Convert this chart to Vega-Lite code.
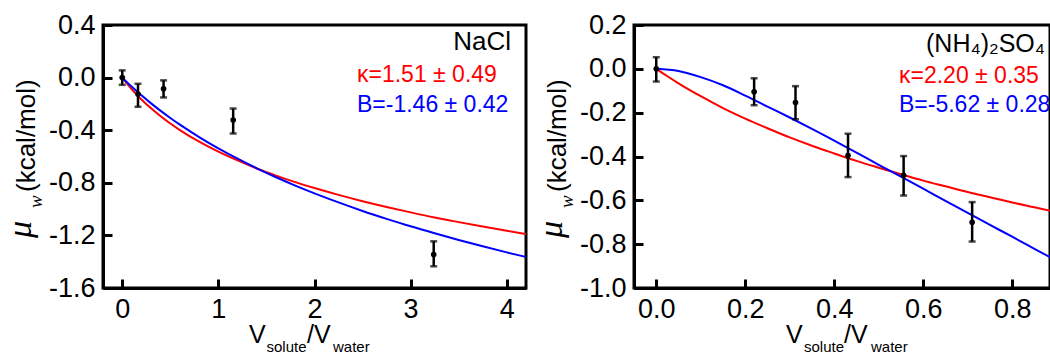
{
  "$schema": "https://vega.github.io/schema/vega-lite/v6.json",
  "autosize": {"type": "pad"},
  "padding": {"left": 2, "top": 9, "right": 0, "bottom": 0},
  "background": "white",
  "spacing": 108,
  "bounds": "flush",
  "config": {
    "view": {"stroke": "black", "strokeWidth": 3},
    "axis": {
      "domainColor": "black", "domainWidth": 3,
      "tickColor": "black", "tickWidth": 3, "tickSize": -9,
      "labelFont": "Liberation Sans", "labelFontSize": 27, "labelColor": "black",
      "labelPadding": 17, "grid": false, "labelOverlap": false
    },
    "text": {"font": "Liberation Sans", "color": "black"}
  },
  "datasets": {
    "nacl_pts": [
      {"x": 0, "y": 0.0, "lo": -0.055, "hi": 0.055},
      {"x": 0.164, "y": -0.125, "lo": -0.222, "hi": -0.047},
      {"x": 0.43, "y": -0.085, "lo": -0.151, "hi": -0.021},
      {"x": 1.154, "y": -0.323, "lo": -0.425, "hi": -0.235},
      {"x": 3.24, "y": -1.346, "lo": -1.435, "hi": -1.245}
    ],
    "nacl_fit": [
      {"model": "kappa", "x": 0, "y": 0},
      {"model": "kappa", "x": 0.05, "y": -0.046},
      {"model": "kappa", "x": 0.1, "y": -0.089},
      {"model": "kappa", "x": 0.2, "y": -0.166},
      {"model": "kappa", "x": 0.3, "y": -0.234},
      {"model": "kappa", "x": 0.4, "y": -0.294},
      {"model": "kappa", "x": 0.5, "y": -0.349},
      {"model": "kappa", "x": 0.6, "y": -0.399},
      {"model": "kappa", "x": 0.8, "y": -0.487},
      {"model": "kappa", "x": 1.0, "y": -0.563},
      {"model": "kappa", "x": 1.2, "y": -0.630},
      {"model": "kappa", "x": 1.4, "y": -0.691},
      {"model": "kappa", "x": 1.6, "y": -0.745},
      {"model": "kappa", "x": 1.8, "y": -0.795},
      {"model": "kappa", "x": 2.0, "y": -0.840},
      {"model": "kappa", "x": 2.25, "y": -0.892},
      {"model": "kappa", "x": 2.5, "y": -0.940},
      {"model": "kappa", "x": 2.75, "y": -0.984},
      {"model": "kappa", "x": 3.0, "y": -1.025},
      {"model": "kappa", "x": 3.25, "y": -1.064},
      {"model": "kappa", "x": 3.5, "y": -1.099},
      {"model": "kappa", "x": 3.75, "y": -1.133},
      {"model": "kappa", "x": 4.0, "y": -1.165},
      {"model": "kappa", "x": 4.2, "y": -1.189},
      {"model": "B", "x": 0, "y": 0},
      {"model": "B", "x": 0.05, "y": -0.036},
      {"model": "B", "x": 0.1, "y": -0.070},
      {"model": "B", "x": 0.2, "y": -0.135},
      {"model": "B", "x": 0.3, "y": -0.196},
      {"model": "B", "x": 0.4, "y": -0.253},
      {"model": "B", "x": 0.5, "y": -0.307},
      {"model": "B", "x": 0.6, "y": -0.358},
      {"model": "B", "x": 0.8, "y": -0.452},
      {"model": "B", "x": 1.0, "y": -0.538},
      {"model": "B", "x": 1.2, "y": -0.617},
      {"model": "B", "x": 1.4, "y": -0.690},
      {"model": "B", "x": 1.6, "y": -0.758},
      {"model": "B", "x": 1.8, "y": -0.821},
      {"model": "B", "x": 2.0, "y": -0.880},
      {"model": "B", "x": 2.25, "y": -0.949},
      {"model": "B", "x": 2.5, "y": -1.014},
      {"model": "B", "x": 2.75, "y": -1.074},
      {"model": "B", "x": 3.0, "y": -1.131},
      {"model": "B", "x": 3.25, "y": -1.184},
      {"model": "B", "x": 3.5, "y": -1.235},
      {"model": "B", "x": 3.75, "y": -1.283},
      {"model": "B", "x": 4.0, "y": -1.329},
      {"model": "B", "x": 4.2, "y": -1.364}
    ],
    "as_pts": [
      {"x": 0, "y": 0, "lo": -0.058, "hi": 0.053},
      {"x": 0.22, "y": -0.105, "lo": -0.166, "hi": -0.043},
      {"x": 0.313, "y": -0.154, "lo": -0.23, "hi": -0.079},
      {"x": 0.431, "y": -0.396, "lo": -0.494, "hi": -0.296},
      {"x": 0.556, "y": -0.486, "lo": -0.578, "hi": -0.398},
      {"x": 0.71, "y": -0.70, "lo": -0.788, "hi": -0.608}
    ],
    "as_fit": [
      {"model": "kappa", "x": 0, "y": 0},
      {"model": "kappa", "x": 0.025, "y": -0.034},
      {"model": "kappa", "x": 0.05, "y": -0.066},
      {"model": "kappa", "x": 0.1, "y": -0.125},
      {"model": "kappa", "x": 0.15, "y": -0.179},
      {"model": "kappa", "x": 0.2, "y": -0.227},
      {"model": "kappa", "x": 0.25, "y": -0.271},
      {"model": "kappa", "x": 0.3, "y": -0.313},
      {"model": "kappa", "x": 0.35, "y": -0.351},
      {"model": "kappa", "x": 0.4, "y": -0.386},
      {"model": "kappa", "x": 0.45, "y": -0.420},
      {"model": "kappa", "x": 0.5, "y": -0.451},
      {"model": "kappa", "x": 0.55, "y": -0.481},
      {"model": "kappa", "x": 0.6, "y": -0.510},
      {"model": "kappa", "x": 0.65, "y": -0.536},
      {"model": "kappa", "x": 0.7, "y": -0.562},
      {"model": "kappa", "x": 0.75, "y": -0.586},
      {"model": "kappa", "x": 0.8, "y": -0.610},
      {"model": "kappa", "x": 0.85, "y": -0.632},
      {"model": "kappa", "x": 0.9, "y": -0.654},
      {"model": "B", "x": 0, "y": 0},
      {"model": "B", "x": 0.05, "y": -0.010},
      {"model": "B", "x": 0.1, "y": -0.038},
      {"model": "B", "x": 0.15, "y": -0.075},
      {"model": "B", "x": 0.2, "y": -0.122},
      {"model": "B", "x": 0.25, "y": -0.172},
      {"model": "B", "x": 0.3, "y": -0.222},
      {"model": "B", "x": 0.35, "y": -0.274},
      {"model": "B", "x": 0.4, "y": -0.328},
      {"model": "B", "x": 0.45, "y": -0.382},
      {"model": "B", "x": 0.5, "y": -0.438},
      {"model": "B", "x": 0.55, "y": -0.492},
      {"model": "B", "x": 0.6, "y": -0.547},
      {"model": "B", "x": 0.65, "y": -0.602},
      {"model": "B", "x": 0.7, "y": -0.657},
      {"model": "B", "x": 0.75, "y": -0.712},
      {"model": "B", "x": 0.8, "y": -0.766},
      {"model": "B", "x": 0.85, "y": -0.821},
      {"model": "B", "x": 0.9, "y": -0.876}
    ]
  },
  "hconcat": [
    {
      "width": 423,
      "height": 263,
      "layer": [
        {
          "data": {"name": "nacl_fit"},
          "mark": {"type": "line", "strokeWidth": 2, "interpolate": "monotone", "clip": true},
          "encoding": {
            "x": {"field": "x", "type": "quantitative", "title": null,
                  "scale": {"domain": [-0.2, 4.2], "nice": false, "zero": false},
                  "axis": {"values": [0, 1, 2, 3, 4], "format": "d"}},
            "y": {"field": "y", "type": "quantitative", "title": null,
                  "scale": {"domain": [-1.6, 0.4], "nice": false, "zero": false},
                  "axis": {"values": [0.4, 0, -0.4, -0.8, -1.2, -1.6],
                           "labelExpr": "replace(format(datum.value, '.1f'), '\u2212', '-')"}},
            "color": {"field": "model", "type": "nominal",
                      "scale": {"domain": ["kappa", "B"], "range": ["#ff0000", "#0000ff"]},
                      "legend": null}
          }
        },
        {
          "data": {"name": "nacl_pts"},
          "mark": {"type": "errorbar", "color": "black",
                   "ticks": {"size": 7, "thickness": 2.5, "color": "black"},
                   "rule": {"strokeWidth": 2.5, "color": "black"}},
          "encoding": {
            "x": {"field": "x", "type": "quantitative", "title": null},
            "y": {"field": "lo", "type": "quantitative", "title": null},
            "y2": {"field": "hi", "title": null}
          }
        },
        {
          "data": {"name": "nacl_pts"},
          "mark": {"type": "point", "filled": true, "color": "black", "size": 32, "opacity": 1},
          "encoding": {
            "x": {"field": "x", "type": "quantitative", "title": null},
            "y": {"field": "y", "type": "quantitative", "title": null}
          }
        },
        {
          "data": {"values": [{}]},
          "mark": {"type": "text", "text": "NaCl", "align": "right", "baseline": "alphabetic", "fontSize": 26, "dx": 408, "dy": 25},
          "encoding": {"x": {"datum": -0.2}, "y": {"datum": 0.4}}
        },
        {
          "data": {"values": [{}]},
          "mark": {"type": "text", "text": "κ=1.51 ± 0.49", "align": "left", "baseline": "alphabetic", "fontSize": 23, "color": "#ff0000", "dx": 254, "dy": 57},
          "encoding": {"x": {"datum": -0.2}, "y": {"datum": 0.4}}
        },
        {
          "data": {"values": [{}]},
          "mark": {"type": "text", "text": "B=-1.46 ± 0.42", "align": "left", "baseline": "alphabetic", "fontSize": 23, "color": "#0000ff", "dx": 254, "dy": 87},
          "encoding": {"x": {"datum": -0.2}, "y": {"datum": 0.4}}
        },
        {
          "data": {"values": [{}]},
          "mark": {"type": "text", "text": "μ", "font": "Liberation Serif", "fontStyle": "italic", "fontSize": 34, "angle": 270, "align": "left", "baseline": "alphabetic", "dx": 50, "dy": -72},
          "encoding": {"x": {"datum": -0.2}, "y": {"datum": -1.6}}
        },
        {
          "data": {"values": [{}]},
          "mark": {"type": "text", "text": "w", "font": "Liberation Serif", "fontStyle": "italic", "fontSize": 19, "angle": 270, "align": "left", "baseline": "alphabetic", "dx": 80, "dy": -61},
          "encoding": {"x": {"datum": -0.2}, "y": {"datum": -1.6}}
        },
        {
          "data": {"values": [{}]},
          "mark": {"type": "text", "text": "(kcal/mol)", "fontSize": 26, "angle": 270, "align": "left", "baseline": "alphabetic", "dx": 96, "dy": -68},
          "encoding": {"x": {"datum": -0.2}, "y": {"datum": -1.6}}
        },
        {
          "data": {"values": [{}]},
          "mark": {"type": "text", "text": "V", "fontSize": 25, "align": "left", "baseline": "alphabetic", "dx": 146, "dy": 55},
          "encoding": {"x": {"datum": -0.2}, "y": {"datum": -1.6}}
        },
        {
          "data": {"values": [{}]},
          "mark": {"type": "text", "text": "solute", "fontSize": 15, "align": "left", "baseline": "alphabetic", "dx": 163.5, "dy": 64},
          "encoding": {"x": {"datum": -0.2}, "y": {"datum": -1.6}}
        },
        {
          "data": {"values": [{}]},
          "mark": {"type": "text", "text": "/V", "fontSize": 25, "align": "left", "baseline": "alphabetic", "dx": 204, "dy": 55},
          "encoding": {"x": {"datum": -0.2}, "y": {"datum": -1.6}}
        },
        {
          "data": {"values": [{}]},
          "mark": {"type": "text", "text": "water", "fontSize": 15, "align": "left", "baseline": "alphabetic", "dx": 230, "dy": 64},
          "encoding": {"x": {"datum": -0.2}, "y": {"datum": -1.6}}
        }
      ]
    },
    {
      "width": 416,
      "height": 263,
      "layer": [
        {
          "data": {"name": "as_fit"},
          "mark": {"type": "line", "strokeWidth": 2, "interpolate": "monotone", "clip": true},
          "encoding": {
            "x": {"field": "x", "type": "quantitative", "title": null,
                  "scale": {"domain": [-0.05, 0.885], "nice": false, "zero": false},
                  "axis": {"values": [0, 0.2, 0.4, 0.6, 0.8], "format": ".1f"}},
            "y": {"field": "y", "type": "quantitative", "title": null,
                  "scale": {"domain": [-1.0, 0.2], "nice": false, "zero": false},
                  "axis": {"values": [0.2, 0, -0.2, -0.4, -0.6, -0.8, -1.0],
                           "labelExpr": "replace(format(datum.value, '.1f'), '\u2212', '-')"}},
            "color": {"field": "model", "type": "nominal",
                      "scale": {"domain": ["kappa", "B"], "range": ["#ff0000", "#0000ff"]},
                      "legend": null}
          }
        },
        {
          "data": {"name": "as_pts"},
          "mark": {"type": "errorbar", "color": "black",
                   "ticks": {"size": 7, "thickness": 2.5, "color": "black"},
                   "rule": {"strokeWidth": 2.5, "color": "black"}},
          "encoding": {
            "x": {"field": "x", "type": "quantitative", "title": null},
            "y": {"field": "lo", "type": "quantitative", "title": null},
            "y2": {"field": "hi", "title": null}
          }
        },
        {
          "data": {"name": "as_pts"},
          "mark": {"type": "point", "filled": true, "color": "black", "size": 32, "opacity": 1},
          "encoding": {
            "x": {"field": "x", "type": "quantitative", "title": null},
            "y": {"field": "y", "type": "quantitative", "title": null}
          }
        },
        {
          "data": {"values": [{}]},
          "mark": {"type": "text", "text": "(NH₄)₂SO₄", "align": "left", "baseline": "alphabetic", "fontSize": 25, "dx": 292, "dy": 27},
          "encoding": {"x": {"datum": -0.05}, "y": {"datum": 0.2}}
        },
        {
          "data": {"values": [{}]},
          "mark": {"type": "text", "text": "κ=2.20 ± 0.35", "align": "left", "baseline": "alphabetic", "fontSize": 23, "color": "#ff0000", "dx": 265, "dy": 58},
          "encoding": {"x": {"datum": -0.05}, "y": {"datum": 0.2}}
        },
        {
          "data": {"values": [{}]},
          "mark": {"type": "text", "text": "B=-5.62 ± 0.28", "align": "left", "baseline": "alphabetic", "fontSize": 23, "color": "#0000ff", "dx": 265, "dy": 87},
          "encoding": {"x": {"datum": -0.05}, "y": {"datum": 0.2}}
        },
        {
          "data": {"values": [{}]},
          "mark": {"type": "text", "text": "μ", "font": "Liberation Serif", "fontStyle": "italic", "fontSize": 34, "angle": 270, "align": "left", "baseline": "alphabetic", "dx": 50, "dy": -72},
          "encoding": {"x": {"datum": -0.05}, "y": {"datum": -1.0}}
        },
        {
          "data": {"values": [{}]},
          "mark": {"type": "text", "text": "w", "font": "Liberation Serif", "fontStyle": "italic", "fontSize": 19, "angle": 270, "align": "left", "baseline": "alphabetic", "dx": 80, "dy": -61},
          "encoding": {"x": {"datum": -0.05}, "y": {"datum": -1.0}}
        },
        {
          "data": {"values": [{}]},
          "mark": {"type": "text", "text": "(kcal/mol)", "fontSize": 26, "angle": 270, "align": "left", "baseline": "alphabetic", "dx": 96, "dy": -68},
          "encoding": {"x": {"datum": -0.05}, "y": {"datum": -1.0}}
        },
        {
          "data": {"values": [{}]},
          "mark": {"type": "text", "text": "V", "fontSize": 25, "align": "left", "baseline": "alphabetic", "dx": 152, "dy": 55},
          "encoding": {"x": {"datum": -0.05}, "y": {"datum": -1.0}}
        },
        {
          "data": {"values": [{}]},
          "mark": {"type": "text", "text": "solute", "fontSize": 15, "align": "left", "baseline": "alphabetic", "dx": 170, "dy": 64},
          "encoding": {"x": {"datum": -0.05}, "y": {"datum": -1.0}}
        },
        {
          "data": {"values": [{}]},
          "mark": {"type": "text", "text": "/V", "fontSize": 25, "align": "left", "baseline": "alphabetic", "dx": 210, "dy": 55},
          "encoding": {"x": {"datum": -0.05}, "y": {"datum": -1.0}}
        },
        {
          "data": {"values": [{}]},
          "mark": {"type": "text", "text": "water", "fontSize": 15, "align": "left", "baseline": "alphabetic", "dx": 237, "dy": 64},
          "encoding": {"x": {"datum": -0.05}, "y": {"datum": -1.0}}
        }
      ]
    }
  ]
}
